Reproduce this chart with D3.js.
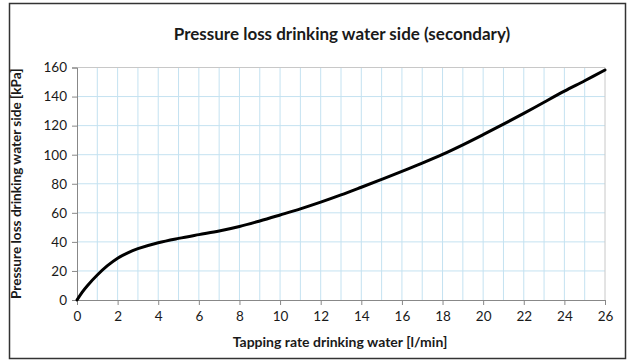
<!DOCTYPE html>
<html>
<head>
<meta charset="utf-8">
<script src="https://cdn.jsdelivr.net/npm/d3@7"></script>
<style>
  body { margin: 0; background: #fff; }
  svg text { font-family: Lato, "Noto Sans", sans-serif; fill: #1a1a1a; }
</style>
</head>
<body>
<svg width="628" height="361"></svg>
<script>
  // curve: tapping rate [l/min] -> pressure loss [kPa]
  const flowRate = [0, 0.25, 0.5, 1, 1.5, 2, 2.5, 3, 4, 5, 6, 7, 8, 9, 10, 11, 12, 13,
                    14, 15, 16, 17, 18, 19, 20, 21, 22, 23, 24, 25, 26];
  const pressureLoss = [0, 5.3, 9.7, 17.2, 23.6, 28.8, 32.5, 35.3, 39.4, 42.4, 45, 47.5,
                        50.6, 54.4, 58.5, 62.7, 67.3, 72.3, 77.6, 83, 88.5, 94.2, 100.2,
                        106.8, 113.8, 121, 128.4, 136.1, 143.7, 150.9, 158.3];
  const xTicks = d3.range(0, 27, 2);
  const yTicks = d3.range(0, 161, 20);

  const title = 'Pressure loss drinking water side (secondary)';
  const xTitle = 'Tapping rate drinking water [l/min]';
  const yTitle = 'Pressure loss drinking water side [kPa]';

  const svg = d3.select('svg');
  const margin = { left: 77, right: 605, top: 67.5, bottom: 300 };

  const x = d3.scaleLinear().domain([0, 26]).range([margin.left, margin.right]);
  const y = d3.scaleLinear().domain([0, 160]).range([margin.bottom, margin.top]);

  // outer frame
  svg.append('rect')
    .attr('x', 9.5).attr('y', 3.5)
    .attr('width', 616).attr('height', 355)
    .attr('fill', 'none')
    .attr('stroke', '#333')
    .attr('stroke-width', 1.5);

  // grid
  const grid = svg.append('g').attr('stroke', '#c4e2f1').attr('stroke-width', 1);
  grid.selectAll('.vgrid').data(d3.range(1, 26))
    .enter().append('line')
      .attr('x1', d => x(d)).attr('x2', d => x(d))
      .attr('y1', y(0)).attr('y2', y(160));
  grid.selectAll('.hgrid').data(yTicks.filter(d => d > 0 && d < 160))
    .enter().append('line')
      .attr('x1', x(0)).attr('x2', x(26))
      .attr('y1', d => y(d)).attr('y2', d => y(d));

  // top and right edge of plot area
  svg.append('path')
    .attr('d', `M${x(0)},${y(160)}H${x(26)}V${y(0)}`)
    .attr('fill', 'none')
    .attr('stroke', '#c8c8c8')
    .attr('stroke-width', 1);

  // axes
  const xAxis = d3.axisBottom(x).tickValues(xTicks).tickSize(5).tickPadding(6);
  const yAxis = d3.axisLeft(y).tickValues(yTicks).tickSize(5).tickPadding(5);

  const gx = svg.append('g')
    .attr('transform', `translate(0,${y(0)})`)
    .call(xAxis);
  const gy = svg.append('g')
    .attr('transform', `translate(${x(0)},0)`)
    .call(yAxis);

  [gx, gy].forEach(g => {
    g.select('.domain').attr('stroke', '#888');
    g.selectAll('.tick line').attr('stroke', '#888');
    g.selectAll('.tick text')
      .attr('font-family', 'Lato, "Noto Sans", sans-serif')
      .attr('font-size', 13.5)
      .attr('fill', '#1a1a1a');
  });

  // curve
  const line = d3.line()
    .x((d, i) => x(flowRate[i]))
    .y(d => y(d))
    .curve(d3.curveCatmullRom.alpha(0.5));

  svg.append('path')
    .datum(pressureLoss)
    .attr('d', line)
    .attr('fill', 'none')
    .attr('stroke', '#000')
    .attr('stroke-width', 3)
    .attr('stroke-linecap', 'round');

  // titles
  svg.append('text')
    .attr('x', 342).attr('y', 40)
    .attr('text-anchor', 'middle')
    .attr('font-size', 17)
    .attr('font-weight', 'bold')
    .text(title);

  svg.append('text')
    .attr('x', 340).attr('y', 347)
    .attr('text-anchor', 'middle')
    .attr('font-size', 14)
    .attr('font-weight', 'bold')
    .text(xTitle);

  svg.append('text')
    .attr('transform', `translate(21,${(y(0) + y(160)) / 2}) rotate(-90)`)
    .attr('text-anchor', 'middle')
    .attr('font-size', 13.6)
    .attr('font-weight', 'bold')
    .text(yTitle);
</script>
</body>
</html>
